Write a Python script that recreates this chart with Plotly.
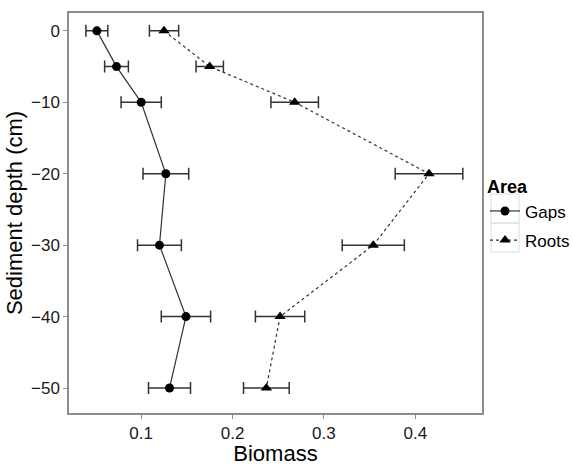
import plotly.graph_objects as go

depth = [0, -5, -10, -20, -30, -40, -50]
gaps = [0.0515, 0.073, 0.100, 0.127, 0.120, 0.149, 0.131]
gaps_err = [0.012, 0.013, 0.022, 0.025, 0.024, 0.027, 0.023]
roots = [0.125, 0.175, 0.268, 0.415, 0.354, 0.252, 0.237]
roots_err = [0.016, 0.015, 0.026, 0.037, 0.034, 0.027, 0.025]

FONT = "Liberation Sans, Arial, sans-serif"
W, H = 573, 466
ML, MR, MT, MB = 69, 91, 13, 53
PW, PH = W - ML - MR, H - MT - MB


def px_to_paper_x(px):
    return (px - ML) / PW


def px_to_paper_y(py):
    return 1 - (py - MT) / PH


fig = go.Figure()
fig.add_trace(go.Scatter(
    x=gaps, y=depth, name="Gaps", mode="lines+markers", legendgroup="g",
    line=dict(color="#333333", width=1.2, dash="solid"),
    marker=dict(symbol="circle", size=9, color="black"),
    error_x=dict(type="data", array=gaps_err, visible=True, color="#333333", thickness=1.5, width=6),
))
fig.add_trace(go.Scatter(
    x=roots, y=depth, name="Roots", mode="lines+markers", legendgroup="r",
    line=dict(color="#333333", width=1.2, dash="dot"),
    marker=dict(symbol="triangle-up", size=10, color="black"),
    error_x=dict(type="data", array=roots_err, visible=True, color="#333333", thickness=1.5, width=6),
))

# legend key boxes (ggplot style)
shapes = []
for top, bot in [(194, 223), (223, 252)]:
    shapes.append(dict(type="rect", xref="paper", yref="paper",
                       x0=px_to_paper_x(491), x1=px_to_paper_x(519),
                       y0=px_to_paper_y(bot), y1=px_to_paper_y(top),
                       line=dict(color="#dcdcdc", width=1), fillcolor="rgba(0,0,0,0)", layer="below"))

fig.update_layout(
    width=W, height=H,
    margin=dict(l=ML, r=MR, t=MT, b=MB, autoexpand=False),
    paper_bgcolor="white", plot_bgcolor="white",
    font=dict(family=FONT, color="black"),
    showlegend=True,
    shapes=shapes,
    legend=dict(
        title=dict(text="<b>Area</b>", font=dict(size=18, family=FONT)),
        font=dict(size=17, family=FONT),
        x=px_to_paper_x(485), xanchor="left", y=px_to_paper_y(170), yanchor="top",
        bgcolor="rgba(0,0,0,0)", itemwidth=30, tracegroupgap=4,
    ),
)
fig.update_xaxes(
    range=[0.021, 0.473], tickvals=[0.1, 0.2, 0.3, 0.4], ticktext=["0.1", "0.2", "0.3", "0.4"],
    showgrid=False, zeroline=False, showline=True, mirror=True, linecolor="#8c8c8c", linewidth=1.5,
    ticks="outside", ticklen=4, tickcolor="#8c8c8c", tickfont=dict(size=17, color="#1a1a1a"),
    title=dict(text="Biomass", font=dict(size=22), standoff=4),
)
fig.update_yaxes(
    range=[-53.5, 2.5], tickvals=[0, -10, -20, -30, -40, -50],
    showgrid=False, zeroline=False, showline=True, mirror=True, linecolor="#8c8c8c", linewidth=1.5,
    ticks="outside", ticklen=4, tickcolor="#8c8c8c", tickfont=dict(size=17, color="#1a1a1a"),
    title=dict(text="Sediment depth (cm)", font=dict(size=22), standoff=2),
)

fig.write_html("out.html")
